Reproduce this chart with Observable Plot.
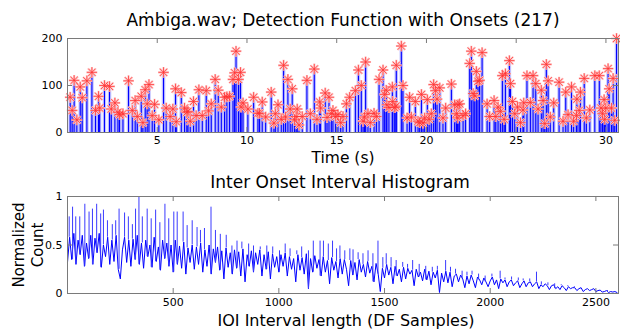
<!DOCTYPE html>
<html><head><meta charset="utf-8">
<script src="https://cdn.jsdelivr.net/npm/d3@7"></script>
<script src="https://cdn.jsdelivr.net/npm/@observablehq/plot@0.6"></script>
<style>
body{margin:0;background:#fff;}
#wrap{position:relative;width:620px;height:329px;font-family:"DejaVu Sans",Verdana,sans-serif;color:#000;overflow:hidden;}
.t{position:absolute;white-space:nowrap;font-size:16px;transform:translate(-50%,-50%);}
#p1,#p2{position:absolute;left:0;}
#p1{top:0}#p2{top:165px}
</style></head><body>
<div id="wrap">
<div id="p1"></div><div id="p2"></div>
<div class="t" style="left:343px;top:20px;font-size:17px">Aṁbiga.wav; Detection Function with Onsets (217)</div>
<div class="t" style="left:343px;top:158px;font-size:15.5px">Time (s)</div>
<div class="t" style="left:340px;top:182px;font-size:17px">Inter Onset Interval Histogram</div>
<div class="t" style="left:346px;top:320px">IOI Interval length (DF Samples)</div>
<div class="t" style="left:29px;top:245px;font-size:15px;transform:translate(-50%,-50%) rotate(-90deg);text-align:center;line-height:19px">Normalized<br>Count</div>
</div>
<script>
// Onset times (s) and detection function values at onsets
const onsetTimes = [
0.15,0.26,0.37,0.52,0.71,0.82,1.08,1.36,1.56,1.73,1.79,2.06,2.34,2.44,2.64,2.81,2.90,3.09,3.40,3.61,3.77,3.89,4.11,4.20,4.33,4.44,4.54,4.72,4.85,5.09,5.35,5.50,5.72,5.87,6.02,6.06,6.65,
6.34,6.52,6.71,6.84,7.02,7.17,7.32,7.51,7.73,7.86,8.01,8.23,8.40,8.57,8.75,8.88,9.03,9.22,9.31,9.39,9.53,9.64,9.67,9.78,10.05,10.37,10.61,10.70,10.85,11.04,11.35,11.50,11.58,11.73,11.91,12.04,12.15,12.28,
12.41,12.52,12.65,12.74,12.80,12.90,13.08,13.34,13.53,13.75,13.90,14.05,14.10,14.36,14.46,14.57,14.70,14.79,14.94,15.07,15.22,15.35,15.54,15.72,16.04,16.21,16.37,16.47,16.55,16.61,16.74,16.87,17.08,17.21,17.36,17.58,17.67,17.76,17.79,17.91,18.10,18.12,18.23,18.30,18.32,18.60,
18.69,18.92,19.06,19.16,19.38,19.53,19.62,19.72,19.81,19.90,20.05,20.15,20.27,20.40,20.50,20.59,20.74,20.92,21.07,21.39,21.57,21.67,21.74,21.76,21.85,22.04,22.18,22.41,22.50,22.60,22.69,22.78,22.87,22.96,23.10,23.38,23.52,23.77,23.86,23.99,24.12,24.23,24.33,24.40,24.62,
24.68,24.79,24.92,25.07,25.24,25.38,25.42,25.60,25.79,25.94,26.09,26.22,26.40,26.50,26.59,26.68,26.78,26.90,27.09,27.39,27.61,27.76,27.89,28.08,28.20,28.36,28.38,28.51,28.58,28.79,28.91,29.10,29.38,29.63,29.72,29.81,29.90,29.93,29.99,30.12,30.18,30.31,30.40,30.49,30.59
];
const onsetValues = [
75,47,111,27,97,74,110,128,47,77,52,100,98,50,63,43,38,40,110,47,68,34,77,21,91,61,102,36,60,27,128,52,34,50,93,23,43,
85,52,45,24,66,36,91,36,89,46,61,113,90,54,75,76,77,113,127,173,113,128,54,63,50,75,41,41,65,33,86,20,40,59,28,143,33,113,
50,93,27,34,50,16,34,111,40,135,28,65,52,84,32,75,40,47,34,38,21,34,61,75,89,133,100,24,33,150,40,21,41,34,113,133,81,90,59,53,97,66,53,56,143,184,
100,31,75,33,66,24,21,81,20,31,70,28,40,102,89,71,95,31,52,103,59,40,31,59,61,36,40,147,173,83,78,130,109,111,170,61,34,68,34,54,45,121,28,125,153,
104,66,40,54,21,48,63,121,64,121,104,50,90,68,19,145,110,33,63,107,24,86,38,97,24,36,71,47,86,115,31,48,121,121,52,40,70,28,52,136,93,52,115,26,200
];
const timeTicks = [5,10,15,20,25,30];
const dfTicks = [0,100,200];

// IOI histogram (normalized count): dense band, one value per 10 DF samples, 0..2600
const ioiBinWidth = 10;
const ioiCounts = [
0.32,0.58,0.35,0.62,0.30,0.55,0.40,0.60,0.28,0.52,
0.36,0.60,0.30,0.57,0.42,0.62,0.27,0.50,0.38,0.58,
0.30,0.55,0.33,0.60,0.25,0.15,0.45,0.58,0.32,0.55,
0.28,0.56,0.35,0.60,0.30,0.52,0.26,0.55,0.38,0.50,
0.27,0.58,0.33,0.48,0.24,0.55,0.36,0.52,0.28,0.50,
0.22,0.55,0.30,0.49,0.26,0.53,0.20,0.47,0.32,0.50,
0.25,0.48,0.30,0.52,0.22,0.45,0.28,0.50,0.20,0.46,
0.32,0.48,0.24,0.44,0.15,0.47,0.27,0.42,0.20,0.45,
0.26,0.43,0.18,0.46,0.12,0.40,0.28,0.44,0.22,0.42,
0.30,0.45,0.18,0.40,0.25,0.43,0.15,0.41,0.27,0.38,
0.22,0.40,0.28,0.42,0.18,0.38,0.25,0.36,0.12,0.40,
0.24,0.37,0.20,0.41,0.05,0.36,0.22,0.39,0.26,0.35,
0.18,0.38,0.22,0.34,0.10,0.37,0.24,0.33,0.16,0.36,
0.20,0.35,0.25,0.08,0.34,0.19,0.32,0.14,0.35,0.22,
0.30,0.17,0.33,0.21,0.28,0.12,0.31,0.20,0.02,0.26,
0.16,0.30,0.19,0.27,0.10,0.28,0.18,0.25,0.12,0.27,
0.15,0.26,0.20,0.24,0.08,0.25,0.17,0.22,0.13,0.25,
0.14,0.23,0.09,0.22,0.16,0.24,0.01,0.21,0.12,0.23,
0.11,0.22,0.07,0.18,0.20,0.12,0.19,0.15,0.06,0.18,
0.10,0.19,0.13,0.06,0.17,0.14,0.09,0.16,0.12,0.07,
0.13,0.17,0.09,0.14,0.05,0.15,0.11,0.14,0.07,0.12,
0.14,0.08,0.11,0.13,0.06,0.10,0.13,0.07,0.11,0.12,
0.07,0.10,0.12,0.05,0.09,0.07,0.10,0.08,0.04,0.08,
0.09,0.05,0.07,0.04,0.08,0.06,0.03,0.07,0.05,0.06,
0.06,0.03,0.05,0.06,0.02,0.04,0.05,0.03,0.04,0.05,
0.02,0.03,0.035,0.015,0.02,0.03,0.01,0.02,0.015,0.02,
0.01
];
// Tall single-sample spikes rising out of the band
const spikeLengths = [8,24,39,58,82,102,118,138,157,170,189,212,228,244,270,288,307,322,338,354,377,396,417,437,461,479,503,519,547,566,590,613,629,648,679,700,723,751,778,802,825,857,880,912,943,971,1003,1030,1053,1085,1108,1140,1163,1195,1211,1234,1254,1273,1289,1312,1336,1351,1375,1398,1422,1445,1469,1492,1508,1531,1555,1586,1609,1633,1664,1695,1726,1750,1789,1812,1836,1867,1890,1914,1945,1976,2008,2047,2070,2101,2133,2156,2187,2219,2242,2273,2305,2336,2367,2398,2430,2461,2492,2523,2555,2586];
const spikeCounts = [0.79,0.89,0.79,0.79,0.92,0.84,0.87,0.92,0.82,0.86,0.75,0.71,0.75,0.87,0.83,0.79,0.71,0.87,1.0,0.79,0.87,0.77,0.86,0.73,0.92,0.77,0.84,0.84,0.84,0.70,0.75,0.68,0.65,0.67,0.89,0.65,0.61,0.60,0.49,0.54,0.53,0.51,0.49,0.48,0.49,0.48,0.44,0.51,0.46,0.44,0.48,0.44,0.54,0.54,0.54,0.51,0.54,0.46,0.49,0.44,0.46,0.45,0.42,0.41,0.44,0.41,0.54,0.37,0.41,0.37,0.34,0.32,0.30,0.34,0.30,0.28,0.27,0.28,0.34,0.27,0.25,0.23,0.22,0.23,0.20,0.18,0.20,0.23,0.16,0.17,0.16,0.15,0.15,0.22,0.12,0.11,0.10,0.09,0.08,0.07,0.06,0.05,0.05,0.035,0.03,0.02];
const ioiTicks = [500,1000,1500,2000,2500];
const countTicks = [0,0.5,1];

const onsets = onsetTimes.map((t,i)=>({t, v: onsetValues[i]}));
const ioi = ioiCounts.map((c,i)=>({len: i*ioiBinWidth, c}));
const spikes = spikeLengths.map((len,i)=>({len, top: spikeCounts[i], base: ioiCounts[Math.round(len/ioiBinWidth)]}));

const frameCol = "#7a7a7a";
const style = {fontFamily:"DejaVu Sans, Verdana, sans-serif", fontSize:"11px", color:"#000", background:"transparent", overflow:"visible"};
const fmt = d => String(d);

const fw = 620-67-2;
const h1 = 165-38-33;
const p1 = Plot.plot({
  width:620, height:165, marginLeft:67, marginRight:2, marginTop:38, marginBottom:33,
  style,
  x:{domain:[0,30.7]}, y:{domain:[0,200]},
  marks:[
    Plot.ruleX(onsets,{x:"t", y1:0, y2:"v", stroke:"#7070ff", strokeWidth:3.5, strokeOpacity:0.45}),
    Plot.ruleX(onsets,{x:"t", y1:0, y2:"v", stroke:"#0000ff", strokeWidth:1.1}),
    Plot.dot(onsets,{x:"t", y:"v", symbol:"plus", r:3.6, stroke:"#ffc4c4", strokeWidth:2.2}),
    Plot.dot(onsets,{x:"t", y:"v", symbol:"times", r:3.6, stroke:"#ffc4c4", strokeWidth:2.2}),
    Plot.dot(onsets,{x:"t", y:"v", symbol:"plus", r:3.4, stroke:"#ff3030", strokeWidth:0.75}),
    Plot.dot(onsets,{x:"t", y:"v", symbol:"times", r:3.4, stroke:"#ff3030", strokeWidth:0.75}),
    Plot.tickX(timeTicks,{x:d=>d, stroke:frameCol, insetTop:h1-5}),
    Plot.tickX(timeTicks,{x:d=>d, stroke:frameCol, insetBottom:h1-5}),
    Plot.tickY(dfTicks,{y:d=>d, stroke:frameCol, insetRight:fw-5}),
    Plot.tickY(dfTicks,{y:d=>d, stroke:frameCol, insetLeft:fw-5}),
    Plot.frame({stroke:frameCol}),
    Plot.axisX({ticks:timeTicks, tickSize:0, tickPadding:4, label:null, tickFormat:fmt}),
    Plot.axisY({ticks:dfTicks, tickSize:0, tickPadding:5, label:null, tickFormat:fmt})
  ]
});
document.getElementById("p1").append(p1);

const h2 = 164-31-36;
const p2 = Plot.plot({
  width:620, height:164, marginLeft:67, marginRight:2, marginTop:31, marginBottom:36,
  style,
  x:{domain:[0,2607]}, y:{domain:[0,1]},
  marks:[
    Plot.lineY(ioi,{x:"len", y:"c", stroke:"#0000ff", strokeWidth:1}),
    Plot.ruleX(spikes,{x:"len", y1:"base", y2:"top", stroke:"#3a3aff", strokeWidth:1}),
    Plot.tickX(ioiTicks,{x:d=>d, stroke:frameCol, insetTop:h2-5}),
    Plot.tickX(ioiTicks,{x:d=>d, stroke:frameCol, insetBottom:h2-5}),
    Plot.tickY(countTicks,{y:d=>d, stroke:frameCol, insetRight:fw-5}),
    Plot.tickY(countTicks,{y:d=>d, stroke:frameCol, insetLeft:fw-5}),
    Plot.frame({stroke:frameCol}),
    Plot.axisX({ticks:ioiTicks, tickSize:0, tickPadding:5, label:null, tickFormat:fmt}),
    Plot.axisY({ticks:countTicks, tickSize:0, tickPadding:5, label:null, tickFormat:fmt})
  ]
});
document.getElementById("p2").append(p2);
</script>
</body></html>
